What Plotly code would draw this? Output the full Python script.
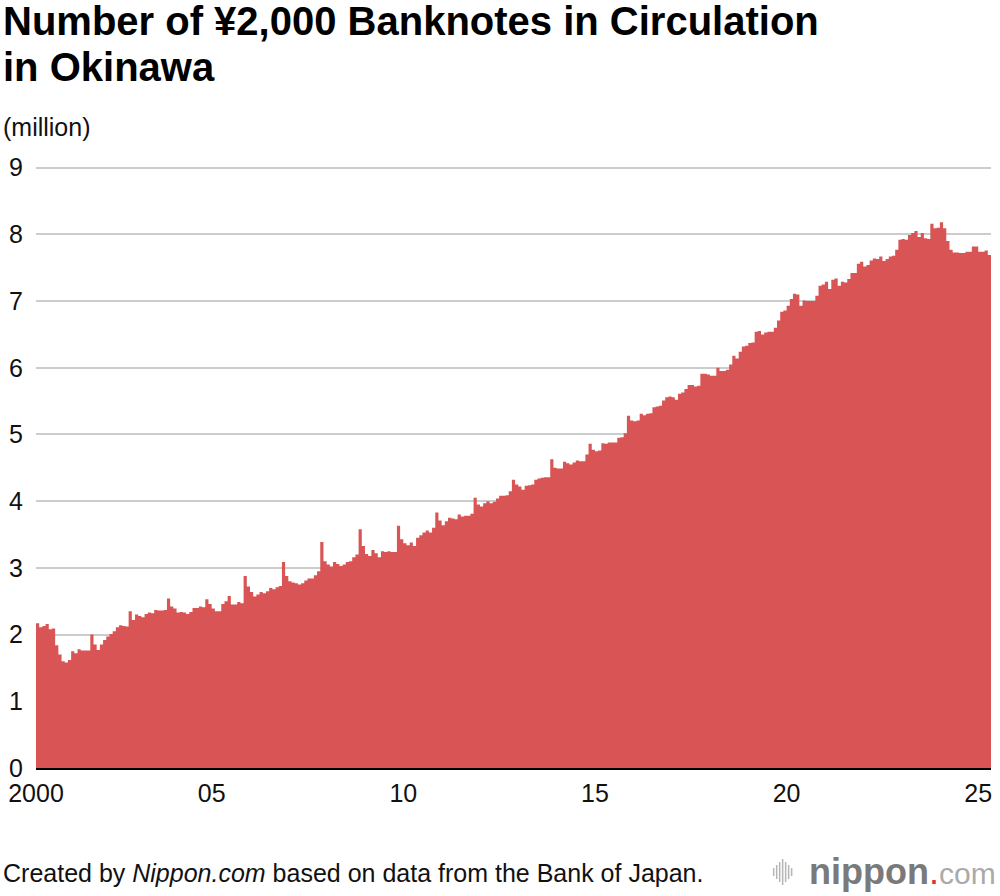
import plotly.graph_objects as go

# Monthly data, July 2000 - May 2025 (million notes)
start_year = 2000
start_month = 7
values = [
    # 2000 Jul-Dec
    2.17, 2.11, 2.13, 2.16, 2.08, 2.09,
    # 2001
    1.84, 1.70, 1.60, 1.58, 1.62, 1.75, 1.72, 1.78, 1.76, 1.76, 1.76, 2.00,
    # 2002
    1.85, 1.77, 1.85, 1.92, 1.97, 2.01, 2.05, 2.11, 2.14, 2.13, 2.12, 2.35,
    # 2003
    2.22, 2.30, 2.28, 2.26, 2.31, 2.33, 2.32, 2.37, 2.36, 2.36, 2.37, 2.54,
    # 2004
    2.42, 2.39, 2.33, 2.34, 2.33, 2.31, 2.34, 2.40, 2.40, 2.42, 2.41, 2.53,
    # 2005
    2.46, 2.39, 2.35, 2.35, 2.46, 2.50, 2.58, 2.45, 2.45, 2.49, 2.47, 2.88,
    # 2006
    2.72, 2.64, 2.57, 2.60, 2.64, 2.62, 2.65, 2.70, 2.68, 2.71, 2.73, 3.09,
    # 2007
    2.88, 2.80, 2.78, 2.77, 2.75, 2.77, 2.81, 2.84, 2.84, 2.89, 2.95, 3.39,
    # 2008
    3.10, 3.05, 3.02, 3.09, 3.06, 3.03, 3.05, 3.09, 3.10, 3.16, 3.20, 3.58,
    # 2009
    3.33, 3.21, 3.18, 3.27, 3.22, 3.16, 3.25, 3.24, 3.25, 3.24, 3.24, 3.63,
    # 2010
    3.43, 3.37, 3.34, 3.38, 3.33, 3.45, 3.49, 3.53, 3.56, 3.53, 3.60, 3.83,
    # 2011
    3.71, 3.64, 3.70, 3.75, 3.74, 3.73, 3.80, 3.77, 3.78, 3.78, 3.81, 4.05,
    # 2012
    3.95, 3.92, 3.97, 4.00, 3.97, 3.99, 4.04, 4.08, 4.08, 4.09, 4.15, 4.32,
    # 2013
    4.25, 4.22, 4.17, 4.23, 4.24, 4.25, 4.32, 4.34, 4.35, 4.36, 4.36, 4.63,
    # 2014
    4.50, 4.49, 4.49, 4.59, 4.57, 4.55, 4.58, 4.61, 4.60, 4.60, 4.70, 4.86,
    # 2015
    4.77, 4.75, 4.76, 4.87, 4.86, 4.88, 4.88, 4.88, 4.95, 4.96, 5.02, 5.28,
    # 2016
    5.21, 5.20, 5.21, 5.31, 5.29, 5.31, 5.32, 5.41, 5.42, 5.43, 5.51, 5.56,
    # 2017
    5.57, 5.56, 5.52, 5.61, 5.63, 5.68, 5.74, 5.74, 5.72, 5.73, 5.91, 5.91,
    # 2018
    5.90, 5.88, 5.88, 6.00, 5.95, 5.95, 5.97, 6.05, 6.18, 6.14, 6.24, 6.32,
    # 2019
    6.33, 6.37, 6.38, 6.54, 6.55, 6.50, 6.53, 6.54, 6.54, 6.60, 6.71, 6.84,
    # 2020
    6.86, 6.93, 7.03, 7.11, 7.10, 6.93, 7.01, 7.00, 7.00, 7.00, 7.08, 7.23,
    # 2021
    7.25, 7.29, 7.18, 7.32, 7.34, 7.23, 7.29, 7.28, 7.33, 7.42, 7.42, 7.56,
    # 2022
    7.59, 7.52, 7.54, 7.61, 7.64, 7.63, 7.67, 7.60, 7.63, 7.67, 7.68, 7.77,
    # 2023
    7.92, 7.93, 7.92, 7.99, 8.02, 8.05, 7.96, 8.02, 7.94, 7.93, 8.16, 8.09,
    # 2024
    8.10, 8.18, 8.09, 7.90, 7.77, 7.73, 7.73, 7.72, 7.72, 7.74, 7.74, 7.82,
    # 2025 Jan-May
    7.82, 7.74, 7.74, 7.76, 7.69,
]

year_ticks = [2000, 2005, 2010, 2015, 2020, 2025]
year_labels = ["2000", "05", "10", "15", "20", "25"]
y_ticks = [0, 1, 2, 3, 4, 5, 6, 7, 8, 9]

title_lines = ["Number of ¥2,000 Banknotes in Circulation", "in Okinawa"]
unit_label = "(million)"
source_text = "Created by <i>Nippon.com</i> based on data from the Bank of Japan."

BAR_COLOR = "#d95555"
FONT = "Liberation Sans, Arial, Helvetica, sans-serif"

W, H = 1000, 896
Y_MAX = 9.04
L, R, B = 34, 8, 128
PH = 600 * Y_MAX / 9
T = H - B - PH
PW = W - L - R

def px_x(px):
    return (px - L) / PW

def px_y(py):
    return (H - B - py) / PH

n = len(values)
months = [f"{start_year + (start_month - 1 + i) // 12}-{(start_month - 1 + i) % 12 + 1:02d}" for i in range(n)]

# step-area: each month occupies [i-0.5, i+0.5]
step_x = [i - 0.5 for i in range(n)] + [n - 0.5]
step_y = list(values) + [values[-1]]

# tick positions: year starts in index units; first label at left edge
tickvals = []
for y in year_ticks:
    pos = (y - start_year) * 12 - (start_month - 1) + 0.5
    if pos < -0.5:
        pos = -0.5
    tickvals.append(pos)

fig = go.Figure()
fig.add_trace(go.Scatter(
    x=step_x, y=step_y, mode="lines", line=dict(shape="hv", width=0, color=BAR_COLOR),
    fill="tozeroy", fillcolor=BAR_COLOR,
    customdata=months + [months[-1]],
    hovertemplate="%{customdata}: %{y}<extra></extra>",
))

fig.update_layout(
    width=W, height=H,
    margin=dict(l=L, r=R, t=T, b=B, pad=0),
    paper_bgcolor="white", plot_bgcolor="white",
    showlegend=False,
    font=dict(family=FONT, color="#111111", size=25),
    xaxis=dict(
        range=[-0.5, n - 0.5], tickvals=tickvals, ticktext=year_labels,
        showgrid=False, zeroline=False, showline=True, linecolor="#000000", linewidth=2,
        ticks="", tickfont=dict(size=25, color="#111111"), ticklabelstandoff=2,
        fixedrange=True,
    ),
    yaxis=dict(
        range=[0, Y_MAX], tickvals=y_ticks, showgrid=True, gridcolor="#cccccc", gridwidth=1.5,
        zeroline=False, showline=False, ticks="", tickfont=dict(size=25, color="#111111"),
        ticklabelstandoff=12, fixedrange=True,
    ),
)

# Title
fig.add_annotation(text=f"<b>{title_lines[0]}</b>", xref="paper", yref="paper",
                   x=px_x(-1), y=px_y(21), xanchor="left", yanchor="middle",
                   showarrow=False, font=dict(size=40, color="#000000", family=FONT))
fig.add_annotation(text=f"<b>{title_lines[1]}</b>", xref="paper", yref="paper",
                   x=px_x(-1), y=px_y(67), xanchor="left", yanchor="middle",
                   showarrow=False, font=dict(size=40, color="#000000", family=FONT))
# Unit
fig.add_annotation(text=unit_label, xref="paper", yref="paper",
                   x=px_x(-1), y=px_y(127), xanchor="left", yanchor="middle",
                   showarrow=False, font=dict(size=25, color="#111111", family=FONT))
# Source
fig.add_annotation(text=source_text, xref="paper", yref="paper",
                   x=px_x(-1), y=px_y(873), xanchor="left", yanchor="middle",
                   showarrow=False, font=dict(size=25, color="#111111", family=FONT))
# Logo
fig.add_annotation(
    text="<b>nippon</b><span style='color:#e03030'>.</span><span style='color:#aaaaaa;font-size:30px'>com</span>",
    xref="paper", yref="paper", x=px_x(999), y=px_y(871), xanchor="right", yanchor="middle",
    showarrow=False, font=dict(size=36, color="#7a7a7a", family=FONT))
icon_x = [774, 777, 780, 783, 786, 789, 792]
icon_h = [8, 14, 20, 26, 20, 14, 8]
for ix, ih in zip(icon_x, icon_h):
    fig.add_shape(type="line", xref="paper", yref="paper",
                  x0=px_x(ix), x1=px_x(ix), y0=px_y(872 - ih / 2), y1=px_y(872 + ih / 2),
                  line=dict(color="#b5b5b5", width=1.5))

fig.write_html("out.html", config={"displayModeBar": False},
               post_script="document.body.style.margin='0';document.body.style.overflow='hidden';")
